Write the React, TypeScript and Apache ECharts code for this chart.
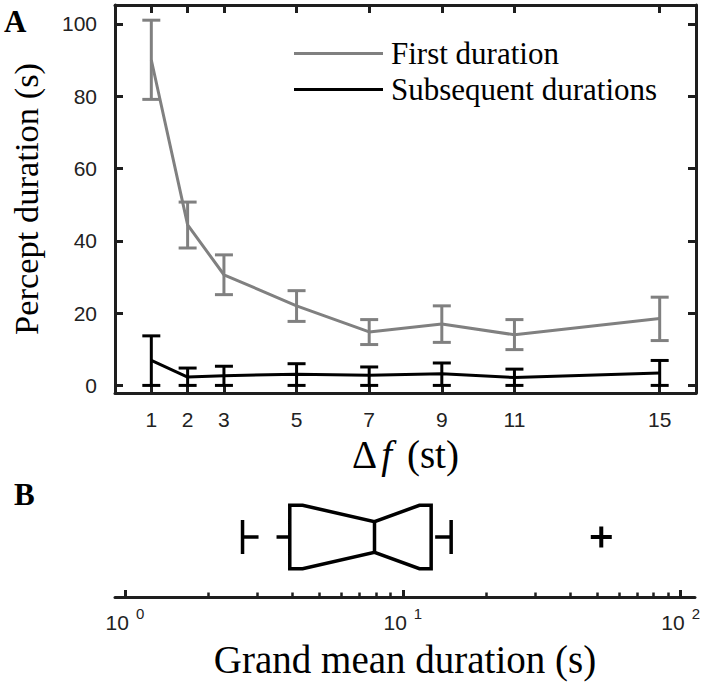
import React, { useEffect, useRef } from 'react';
import * as echarts from 'echarts';

// ---------- Panel A data ----------
const deltaF = [1, 2, 3, 5, 7, 9, 11, 15];
const firstMean = [90, 44.4, 30.6, 22, 14.8, 17, 14, 18.5];
const firstLow = [79.1, 38, 25.1, 17.7, 11.3, 11.9, 9.9, 12.4];
const firstHigh = [101, 50.7, 36.1, 26.2, 18.2, 22, 18.2, 24.4];
const subsMean = [6.9, 2.3, 2.7, 3.1, 2.8, 3.2, 2.2, 3.4];
const subsLow = [0, 0, 0, 0, 0, 0, 0, 0];
const subsHigh = [13.7, 4.8, 5.3, 6, 5.1, 6.2, 4.5, 6.9];
const yTicksA = [0, 20, 40, 60, 80, 100];

// ---------- Panel B data ----------
// [lower whisker, Q1, median, Q3, upper whisker]
const grandBox = [2.65, 3.92, 7.91, 12.65, 14.93];
// [notch low, notch high]
const grandNotch = [4.36, 11.48];
const grandOutliers = [51.8];
const logMajorTicks = [1, 10, 100];
const logMinorTicks = [2, 3, 4, 5, 6, 7, 8, 9, 20, 30, 40, 50, 60, 70, 80, 90];

const AX = '#1e1e1e';
const TICK = AX;
const GRAY = '#808080';
const SERIF = '"Liberation Serif", "Times New Roman", serif';
const SANS = '"Liberation Sans", Arial, sans-serif';

function errorBarRender(color: string) {
  return (params: any, api: any) => {
    const x = api.value(0);
    const lo = api.coord([x, api.value(1)]);
    const hi = api.coord([x, api.value(2)]);
    const hw = 9;
    const st = { stroke: color, lineWidth: 3, fill: 'none' };
    return {
      type: 'group',
      children: [
        { type: 'line', shape: { x1: lo[0], y1: lo[1], x2: hi[0], y2: hi[1] }, style: st },
        { type: 'line', shape: { x1: lo[0] - hw, y1: lo[1], x2: lo[0] + hw, y2: lo[1] }, style: st },
        { type: 'line', shape: { x1: hi[0] - hw, y1: hi[1], x2: hi[0] + hw, y2: hi[1] }, style: st },
      ],
    };
  };
}

export default function App() {
  const ref = useRef<HTMLDivElement>(null);

  useEffect(() => {
    if (!ref.current) return;
    const chart = echarts.init(ref.current, undefined, { renderer: 'svg' });

    const axisLineStyle = { color: AX, width: 3 };
    const tickStyle = { color: TICK, width: 3 };

    const option: any = {
      animation: false,
      backgroundColor: '#fff',
      grid: [
        { left: 115, top: 5, right: 7, bottom: 291 },
        { left: 115, top: 477, right: 8, bottom: 87 },
      ],
      legend: {
        show: true,
        orient: 'vertical',
        left: 294,
        top: 38,
        padding: 0,
        itemWidth: 89,
        itemHeight: 3,
        itemGap: 5,
        icon: 'rect',
        selectedMode: false,
        data: ['First duration', 'Subsequent durations'],
        textStyle: {
          fontFamily: SERIF,
          fontSize: 31,
          lineHeight: 31,
          color: '#000',
          padding: [0, 0, 0, 3],
        },
      },
      graphic: [
        {
          type: 'text',
          left: 4,
          top: 6,
          style: { text: 'A', font: `bold 31px ${SERIF}`, fill: '#000' },
        },
        {
          type: 'text',
          left: 14,
          top: 479,
          style: { text: 'B', font: `bold 31px ${SERIF}`, fill: '#000' },
        },
      ],
      xAxis: [
        {
          gridIndex: 0,
          type: 'value',
          position: 'bottom',
          min: 0,
          max: 16,
          axisLine: { show: true, onZero: false, lineStyle: axisLineStyle },
          axisTick: { show: true, inside: true, length: 8, customValues: deltaF, lineStyle: tickStyle },
          axisLabel: {
            customValues: deltaF,
            margin: 16,
            fontFamily: SANS,
            fontSize: 21,
            color: '#222',
          },
          splitLine: { show: false },
          name: '{g|Δ}{i|f}{n|(st)}',
          nameLocation: 'middle',
          nameGap: 34,
          nameTextStyle: {
            color: '#000',
            rich: {
              g: { fontFamily: SERIF, fontSize: 39, color: '#000' },
              i: {
                fontFamily: SERIF,
                fontSize: 39,
                fontStyle: 'italic',
                color: '#000',
                padding: [0, 15, 0, 4],
              },
              n: { fontFamily: SERIF, fontSize: 39, color: '#000' },
            },
          },
        },
        {
          gridIndex: 0,
          type: 'value',
          position: 'top',
          min: 0,
          max: 16,
          axisLine: { show: true, onZero: false, lineStyle: axisLineStyle },
          axisTick: { show: true, inside: true, length: 8, customValues: deltaF, lineStyle: tickStyle },
          axisLabel: { show: false, customValues: deltaF },
          splitLine: { show: false },
        },
        {
          gridIndex: 1,
          type: 'log',
          position: 'bottom',
          min: 0.921,
          max: 112.6,
          axisLine: { show: true, onZero: false, lineStyle: axisLineStyle },
          axisTick: { show: true, inside: true, length: 7, customValues: logMajorTicks, lineStyle: tickStyle },
          axisLabel: {
            customValues: logMajorTicks,
            margin: 9,
            formatter: (v: number) => `{b|10}{s|${Math.round(Math.log10(v))}}`,
            rich: {
              b: { fontFamily: SANS, fontSize: 21, lineHeight: 32, color: '#222' },
              s: {
                fontFamily: SANS,
                fontSize: 15,
                lineHeight: 14,
                verticalAlign: 'top',
                color: '#222',
                padding: [0, 0, 0, 7],
              },
            },
          },
          splitLine: { show: false },
          name: 'Grand mean duration (s)',
          nameLocation: 'middle',
          nameGap: 43,
          nameTextStyle: { fontFamily: SERIF, fontSize: 39, color: '#000' },
        },
        {
          gridIndex: 1,
          type: 'log',
          position: 'bottom',
          offset: 0,
          min: 0.921,
          max: 112.6,
          axisLine: { show: false, onZero: false },
          axisTick: { show: true, inside: true, length: 4.5, customValues: logMinorTicks, lineStyle: { color: TICK, width: 2.5 } },
          axisLabel: { show: false, customValues: logMinorTicks },
          splitLine: { show: false },
        },
      ],
      yAxis: [
        {
          gridIndex: 0,
          type: 'value',
          position: 'left',
          min: -2.1,
          max: 105.2,
          axisLine: { show: true, onZero: false, lineStyle: axisLineStyle },
          axisTick: { show: true, inside: true, length: 8, customValues: yTicksA, lineStyle: tickStyle },
          axisLabel: {
            customValues: yTicksA,
            margin: 18,
            fontFamily: SANS,
            fontSize: 21,
            color: '#222',
          },
          splitLine: { show: false },
          name: 'Percept duration (s)',
          nameLocation: 'middle',
          nameGap: 72,
          nameTextStyle: { fontFamily: SERIF, fontSize: 34.5, color: '#000' },
        },
        {
          gridIndex: 0,
          type: 'value',
          position: 'right',
          min: -2.1,
          max: 105.2,
          axisLine: { show: true, onZero: false, lineStyle: axisLineStyle },
          axisTick: { show: true, inside: true, length: 8, customValues: yTicksA, lineStyle: tickStyle },
          axisLabel: { show: false, customValues: yTicksA },
          splitLine: { show: false },
        },
        {
          gridIndex: 1,
          type: 'value',
          min: 0,
          max: 2,
          show: false,
        },
      ],
      series: [
        {
          name: 'First duration',
          type: 'line',
          xAxisIndex: 0,
          yAxisIndex: 0,
          data: deltaF.map((x, i) => [x, firstMean[i]]),
          symbol: 'none',
          color: GRAY,
          lineStyle: { color: GRAY, width: 3 },
        },
        {
          name: 'firstErr',
          type: 'custom',
          xAxisIndex: 0,
          yAxisIndex: 0,
          data: deltaF.map((x, i) => [x, firstLow[i], firstHigh[i]]),
          encode: { x: 0, y: [1, 2] },
          renderItem: errorBarRender(GRAY),
        },
        {
          name: 'Subsequent durations',
          type: 'line',
          xAxisIndex: 0,
          yAxisIndex: 0,
          data: deltaF.map((x, i) => [x, subsMean[i]]),
          symbol: 'none',
          color: '#000',
          lineStyle: { color: '#000', width: 3 },
        },
        {
          name: 'subsErr',
          type: 'custom',
          xAxisIndex: 0,
          yAxisIndex: 0,
          data: deltaF.map((x, i) => [x, subsLow[i], subsHigh[i]]),
          encode: { x: 0, y: [1, 2] },
          renderItem: errorBarRender('#000'),
        },
        {
          name: 'grandBox',
          type: 'custom',
          xAxisIndex: 2,
          yAxisIndex: 2,
          data: [[1, grandBox[0], grandBox[1], grandNotch[0], grandBox[2], grandNotch[1], grandBox[3], grandBox[4]]],
          encode: { y: 0, x: [1, 2, 3, 4, 5, 6, 7] },
          renderItem: (params: any, api: any) => {
            const yv = api.value(0);
            const px = (i: number) => api.coord([api.value(i), yv])[0];
            const yc = api.coord([api.value(1), yv])[1];
            const wLo = px(1), q1 = px(2), nLo = px(3), med = px(4), nHi = px(5), q3 = px(6), wHi = px(7);
            const H = 31.7, N = 15.4, C = 17;
            const st = { stroke: '#000', lineWidth: 3.5, fill: 'none', lineJoin: 'miter' };
            const dash = { ...st, lineDash: [16, 18], lineCap: 'butt' };
            return {
              type: 'group',
              children: [
                {
                  type: 'polygon',
                  shape: {
                    points: [
                      [q1, yc - H], [nLo, yc - H], [med, yc - N], [nHi, yc - H], [q3, yc - H],
                      [q3, yc + H], [nHi, yc + H], [med, yc + N], [nLo, yc + H], [q1, yc + H],
                    ],
                  },
                  style: st,
                },
                { type: 'line', shape: { x1: med, y1: yc - N, x2: med, y2: yc + N }, style: st },
                { type: 'line', shape: { x1: wLo, y1: yc, x2: q1, y2: yc }, style: dash },
                { type: 'line', shape: { x1: wHi, y1: yc, x2: q3, y2: yc }, style: dash },
                { type: 'line', shape: { x1: wLo, y1: yc - C, x2: wLo, y2: yc + C }, style: st },
                { type: 'line', shape: { x1: wHi, y1: yc - C, x2: wHi, y2: yc + C }, style: st },
              ],
            };
          },
        },
        {
          name: 'grandOutliers',
          type: 'custom',
          xAxisIndex: 2,
          yAxisIndex: 2,
          data: grandOutliers.map((v) => [1, v]),
          encode: { y: 0, x: 1 },
          renderItem: (params: any, api: any) => {
            const p = api.coord([api.value(1), api.value(0)]);
            const s = 10.5;
            const st = { stroke: '#000', lineWidth: 4, fill: 'none' };
            return {
              type: 'group',
              children: [
                { type: 'line', shape: { x1: p[0] - s, y1: p[1], x2: p[0] + s, y2: p[1] }, style: st },
                { type: 'line', shape: { x1: p[0], y1: p[1] - s, x2: p[0], y2: p[1] + s }, style: st },
              ],
            };
          },
        },
      ],
    };

    chart.setOption(option);
    return () => {
      chart.dispose();
    };
  }, []);

  return (
    <div
      ref={ref}
      style={{ position: 'fixed', left: 0, top: 0, width: 703, height: 684, background: '#fff' }}
    />
  );
}
